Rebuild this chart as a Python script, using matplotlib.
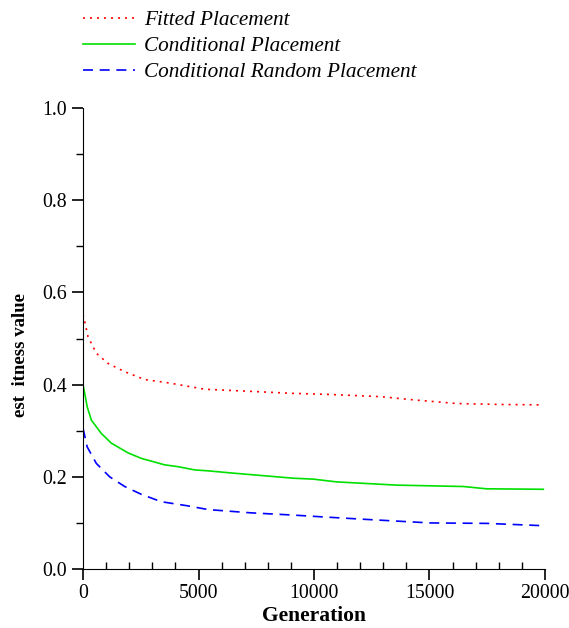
import matplotlib
matplotlib.use('Agg')
import matplotlib.pyplot as plt
from matplotlib.ticker import MultipleLocator

plt.rcParams['font.family'] = ['Liberation Serif', 'DejaVu Serif']

# data
gen_fitted = [0, 43, 216, 577, 1082, 1804, 2670, 3680, 5267, 7000, 9105, 10500,
              12857, 14300, 16177, 18000, 19928]
fitted = [0.552, 0.544, 0.504, 0.468, 0.446, 0.428, 0.411, 0.404, 0.390, 0.386,
          0.381, 0.379, 0.374, 0.367, 0.359, 0.357, 0.356]

gen_cond = [0, 60, 180, 361, 794, 1227, 1948, 2525, 3535, 4113, 4835, 5411, 6500,
            9105, 9970, 10980, 13580, 16465, 17474, 19928]
cond = [0.40, 0.385, 0.352, 0.323, 0.294, 0.273, 0.252, 0.240, 0.226, 0.222, 0.215,
        0.213, 0.208, 0.197, 0.195, 0.189, 0.182, 0.179, 0.174, 0.173]

gen_rand = [0, 60, 180, 577, 1154, 1804, 2525, 3390, 4545, 5411, 7229, 9105, 10403,
            12135, 15022, 17474, 19928]
rand = [0.305, 0.292, 0.265, 0.229, 0.200, 0.179, 0.162, 0.146, 0.137, 0.129, 0.122,
        0.117, 0.113, 0.108, 0.100, 0.099, 0.094]

labels = ['Fitted Placement', 'Conditional Placement', 'Conditional Random Placement']

fig = plt.figure(figsize=(5.69, 6.28), dpi=100)
ax = fig.add_axes([0.1459, 0.0939, 0.8119, 0.7341])

l1, = ax.plot(gen_fitted, fitted, color='#ff0000', lw=1.2, linestyle=(0, (1.2, 3)))
l2, = ax.plot(gen_cond, cond, color='#00e000', lw=1.2, linestyle='-')
l3, = ax.plot(gen_rand, rand, color='#0000ff', lw=1.2, linestyle=(0, (6, 4)))

ax.set_xlim(0, 20000)
ax.set_ylim(0, 1.0)
ax.xaxis.set_major_locator(MultipleLocator(5000))
ax.xaxis.set_minor_locator(MultipleLocator(1000))
ax.yaxis.set_major_locator(MultipleLocator(0.2))
ax.yaxis.set_minor_locator(MultipleLocator(0.1))
ax.yaxis.set_major_formatter(matplotlib.ticker.FormatStrFormatter('%.1f'))

ax.spines['top'].set_visible(False)
ax.spines['right'].set_visible(False)
ax.tick_params(axis='both', which='major', labelsize=14.3, length=8, width=1.2, direction='out')
ax.tick_params(axis='y', which='minor', length=5, width=1.0, direction='out')
ax.tick_params(axis='x', which='minor', length=5, width=1.0, direction='in')
ax.tick_params(axis='x', pad=3)

ax.set_xlabel('Generation', fontsize=15.5, fontweight='bold', labelpad=2)
ax.set_ylabel('est  itness value', fontsize=13.5, fontweight='bold')
ax.yaxis.set_label_coords(-0.117, 0.464)

fig.legend([l1, l2, l3], labels, loc='upper left', bbox_to_anchor=(0.1125, 1.0138),
           frameon=False, prop={'style': 'italic', 'size': 15.3},
           handlelength=2.45, handletextpad=0.42, labelspacing=0.29)

fig.savefig('out.png', dpi=100, facecolor='white')
